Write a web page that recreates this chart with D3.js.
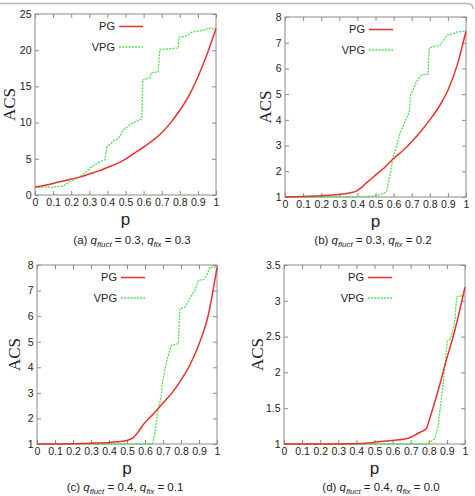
<!DOCTYPE html>
<html>
<head>
<meta charset="utf-8">
<script src="https://cdn.jsdelivr.net/npm/d3@7"></script>
<style>
  body { margin: 0; background: #fff; }
  svg { display: block; }
</style>
</head>
<body>
<script>
// x axis ticks (shared by all four panels)
var pTicks = [0, 0.1, 0.2, 0.3, 0.4, 0.5, 0.6, 0.7, 0.8, 0.9, 1];
var pTickLabels = ["0", "0.1", "0.2", "0.3", "0.4", "0.5", "0.6", "0.7", "0.8", "0.9", "1"];

// y axis ticks per panel
var yTicksA = [0, 5, 10, 15, 20, 25];
var yTicksB = [1, 2, 3, 4, 5, 6, 7, 8];
var yTicksC = [1, 2, 3, 4, 5, 6, 7, 8];
var yTicksD = [1, 1.5, 2, 2.5, 3, 3.5];

// captions
var panelLetters = ["a", "b", "c", "d"];
var qFluct = [0.3, 0.3, 0.4, 0.4];
var qFix = [0.3, 0.2, 0.1, 0.0];
var seriesNames = ["PG", "VPG"];

// (a) q_fluct = 0.3, q_fix = 0.3
var pgA_p = [0, 0.05, 0.1, 0.15, 0.2, 0.25, 0.3, 0.35, 0.4, 0.45, 0.5, 0.55, 0.6, 0.65, 0.7, 0.75, 0.8, 0.85, 0.9, 0.95, 1];
var pgA = [1.1, 1.3, 1.6, 1.9, 2.2, 2.5, 2.9, 3.3, 3.8, 4.3, 4.95, 5.8, 6.6, 7.5, 8.6, 10.0, 11.7, 13.7, 16.3, 19.4, 23.0];
var vpgA_p = [0, 0.1, 0.156, 0.193, 0.249, 0.295, 0.313, 0.359, 0.387, 0.397, 0.44, 0.46, 0.488, 0.525, 0.56, 0.59, 0.595, 0.635, 0.643, 0.68, 0.69, 0.79, 0.797, 0.84, 0.866, 0.94, 0.952, 1];
var vpgA = [1.1, 1.1, 1.25, 1.85, 2.5, 3.45, 3.9, 4.6, 4.9, 6.6, 7.6, 7.8, 9.0, 9.7, 10.2, 10.5, 15.9, 16.2, 16.9, 17.0, 20.1, 20.3, 21.8, 22.0, 22.5, 22.8, 23.0, 23.0];

// (b) q_fluct = 0.3, q_fix = 0.2
var pgB_p = [0, 0.1, 0.2, 0.3, 0.35, 0.4, 0.45, 0.5, 0.55, 0.6, 0.65, 0.7, 0.75, 0.8, 0.85, 0.9, 0.95, 1];
var pgB = [1.0, 1.02, 1.05, 1.1, 1.15, 1.25, 1.55, 1.85, 2.15, 2.5, 2.8, 3.15, 3.55, 4.0, 4.5, 5.15, 6.1, 7.45];
var vpgB_p = [0, 0.3, 0.45, 0.5, 0.53, 0.56, 0.584, 0.595, 0.617, 0.635, 0.663, 0.687, 0.694, 0.705, 0.728, 0.755, 0.79, 0.797, 0.82, 0.856, 0.897, 0.926, 0.95, 1];
var vpgB = [1.0, 1.0, 1.02, 1.05, 1.1, 1.2, 1.98, 2.5, 3.0, 3.48, 3.93, 4.32, 4.97, 5.13, 5.5, 5.75, 5.78, 6.8, 6.84, 6.9, 7.3, 7.34, 7.42, 7.45];

// (c) q_fluct = 0.4, q_fix = 0.1
var pgC_p = [0, 0.1, 0.2, 0.3, 0.4, 0.45, 0.5, 0.535, 0.56, 0.59, 0.65, 0.7, 0.75, 0.8, 0.85, 0.9, 0.95, 1];
var pgC = [1.0, 1.0, 1.01, 1.03, 1.06, 1.09, 1.14, 1.25, 1.45, 1.75, 2.2, 2.6, 3.0, 3.5, 4.1, 4.9, 6.0, 7.9];
var vpgC_p = [0, 0.637, 0.646, 0.661, 0.674, 0.687, 0.7, 0.724, 0.748, 0.785, 0.794, 0.822, 0.865, 0.878, 0.896, 0.924, 0.943, 0.961, 1];
var vpgC = [1.0, 1.0, 1.08, 1.73, 2.38, 2.77, 3.55, 4.34, 4.86, 4.92, 6.3, 6.36, 6.88, 7.0, 7.4, 7.43, 7.6, 7.92, 7.92];

// (d) q_fluct = 0.4, q_fix = 0.0
var pgD_p = [0, 0.2, 0.4, 0.45, 0.52, 0.6, 0.686, 0.74, 0.788, 0.797, 0.852, 0.889, 0.945, 1];
var pgD = [1.0, 1.0, 1.005, 1.01, 1.03, 1.05, 1.08, 1.15, 1.22, 1.29, 1.75, 2.1, 2.6, 3.19];
var vpgD_p = [0, 0.79, 0.815, 0.834, 0.852, 0.862, 0.88, 0.89, 0.902, 0.917, 0.935, 0.945, 0.954, 0.99, 1];
var vpgD = [1.0, 1.0, 1.04, 1.08, 1.25, 1.48, 1.85, 2.13, 2.43, 2.46, 2.6, 2.76, 3.06, 3.07, 3.18];

var W = 475, H = 496;
var RED = "#e8312c", GREEN = "#4edf4e", FRAME = "#8a8a8a", INK = "#222";

var svg = d3.select("body").append("svg")
    .attr("width", W)
    .attr("height", H);

// grey rule along the top of the figure
svg.append("path")
    .attr("d", "M0,3.5 H467 Q473,3.5 473,9")
    .attr("fill", "none")
    .attr("stroke", "#b4b4b4")
    .attr("stroke-width", 1.5);

var panels = [
    { left: 35, right: 216, top: 14, bottom: 195, yDomain: [0, 25], yTicks: yTicksA,
      pg: d3.zip(pgA_p, pgA), vpg: d3.zip(vpgA_p, vpgA), acsX: 15, capX: 132, capY: 244 },
    { left: 285, right: 466, top: 17, bottom: 197, yDomain: [1, 8], yTicks: yTicksB,
      pg: d3.zip(pgB_p, pgB), vpg: d3.zip(vpgB_p, vpgB), acsX: 271, capX: 373, capY: 244 },
    { left: 37, right: 217, top: 265, bottom: 444, yDomain: [1, 8], yTicks: yTicksC,
      pg: d3.zip(pgC_p, pgC), vpg: d3.zip(vpgC_p, vpgC), acsX: 20, capX: 125, capY: 491 },
    { left: 284, right: 465, top: 265, bottom: 444, yDomain: [1, 3.5], yTicks: yTicksD,
      pg: d3.zip(pgD_p, pgD), vpg: d3.zip(vpgD_p, vpgD), acsX: 263, capX: 381, capY: 491 }
];

panels.forEach(function(cfg, i) {
    drawPanel(cfg, i);
});

function styleAxis(g) {
    g.select(".domain").remove();
    g.selectAll("line").attr("stroke", FRAME);
    g.selectAll("text")
        .attr("fill", INK)
        .style("font-family", "'Liberation Sans', Arial, sans-serif")
        .style("font-size", "10.5px");
}

function drawPanel(cfg, i) {
    var x = d3.scaleLinear().domain([0, 1]).range([cfg.left, cfg.right]);
    var y = d3.scaleLinear().domain(cfg.yDomain).range([cfg.bottom, cfg.top]);
    var g = svg.append("g");

    // axes, ticks pointing inward on all four sides
    g.append("g")
        .attr("transform", "translate(0," + cfg.bottom + ")")
        .call(d3.axisBottom(x).tickValues(pTicks).tickSize(-4).tickPadding(4)
            .tickFormat(function(d, k) { return pTickLabels[k]; }))
        .call(styleAxis);
    g.append("g")
        .attr("transform", "translate(0," + cfg.top + ")")
        .call(d3.axisTop(x).tickValues(pTicks).tickSize(-4).tickFormat(""))
        .call(styleAxis);
    g.append("g")
        .attr("transform", "translate(" + cfg.left + ",0)")
        .call(d3.axisLeft(y).tickValues(cfg.yTicks).tickSize(-4).tickPadding(3.5)
            .tickFormat(function(d) { return String(d); }))
        .call(styleAxis);
    g.append("g")
        .attr("transform", "translate(" + cfg.right + ",0)")
        .call(d3.axisRight(y).tickValues(cfg.yTicks).tickSize(-4).tickFormat(""))
        .call(styleAxis);

    g.append("rect")
        .attr("x", cfg.left)
        .attr("y", cfg.top)
        .attr("width", cfg.right - cfg.left)
        .attr("height", cfg.bottom - cfg.top)
        .attr("fill", "none")
        .attr("stroke", FRAME)
        .attr("stroke-width", 1);

    var line = d3.line()
        .x(function(d) { return x(d[0]); })
        .y(function(d) { return y(d[1]); });
    var smooth = d3.line()
        .curve(d3.curveMonotoneX)
        .x(function(d) { return x(d[0]); })
        .y(function(d) { return y(d[1]); });

    g.append("path")
        .datum(cfg.vpg)
        .attr("d", line)
        .attr("fill", "none")
        .attr("stroke", GREEN)
        .attr("stroke-width", 1.3)
        .attr("stroke-dasharray", "2,1.2");
    g.append("path")
        .datum(cfg.pg)
        .attr("d", smooth)
        .attr("fill", "none")
        .attr("stroke", RED)
        .attr("stroke-width", 1.5);

    // legend
    var styles = [
        { color: RED, dash: null, width: 1.5 },
        { color: GREEN, dash: "2,1.2", width: 1.3 }
    ];
    seriesNames.forEach(function(name, k) {
        var ly = cfg.top + 12.5 + k * 20.5;
        g.append("text")
            .attr("x", cfg.left + 80)
            .attr("y", ly)
            .attr("dy", "0.35em")
            .attr("text-anchor", "end")
            .attr("fill", INK)
            .style("font-family", "'Liberation Sans', Arial, sans-serif")
            .style("font-size", "11px")
            .text(name);
        g.append("line")
            .attr("x1", cfg.left + 84)
            .attr("x2", cfg.left + 108)
            .attr("y1", ly)
            .attr("y2", ly)
            .attr("stroke", styles[k].color)
            .attr("stroke-width", styles[k].width)
            .attr("stroke-dasharray", styles[k].dash);
    });

    // axis titles
    g.append("text")
        .attr("transform", "translate(" + cfg.acsX + "," + ((cfg.top + cfg.bottom) / 2) + ") rotate(-90)")
        .attr("text-anchor", "middle")
        .attr("fill", INK)
        .style("font-family", "'Liberation Serif', 'Times New Roman', serif")
        .style("font-size", "17px")
        .text("ACS");
    g.append("text")
        .attr("x", (cfg.left + cfg.right) / 2)
        .attr("y", cfg.bottom + 29.5)
        .attr("text-anchor", "middle")
        .attr("fill", INK)
        .style("font-family", "'Liberation Sans', Arial, sans-serif")
        .style("font-size", "17px")
        .text("p");

    // caption: (x) q_fluct = .., q_fix = ..
    var cap = g.append("text")
        .attr("x", cfg.capX)
        .attr("y", cfg.capY)
        .attr("text-anchor", "middle")
        .attr("fill", INK)
        .style("font-family", "'Liberation Sans', Arial, sans-serif")
        .style("font-size", "11.5px");
    cap.append("tspan").text("(" + panelLetters[i] + ") ");
    cap.append("tspan").style("font-style", "italic").text("q");
    cap.append("tspan").style("font-style", "italic").style("font-size", "8px").attr("dy", 2.5).text("fluct");
    cap.append("tspan").attr("dy", -2.5).text(" = " + qFluct[i].toFixed(1) + ", ");
    cap.append("tspan").style("font-style", "italic").text("q");
    cap.append("tspan").style("font-style", "italic").style("font-size", "8px").attr("dy", 2.5).text("fix");
    cap.append("tspan").attr("dy", -2.5).text(" = " + qFix[i].toFixed(1));
}
</script>
</body>
</html>
